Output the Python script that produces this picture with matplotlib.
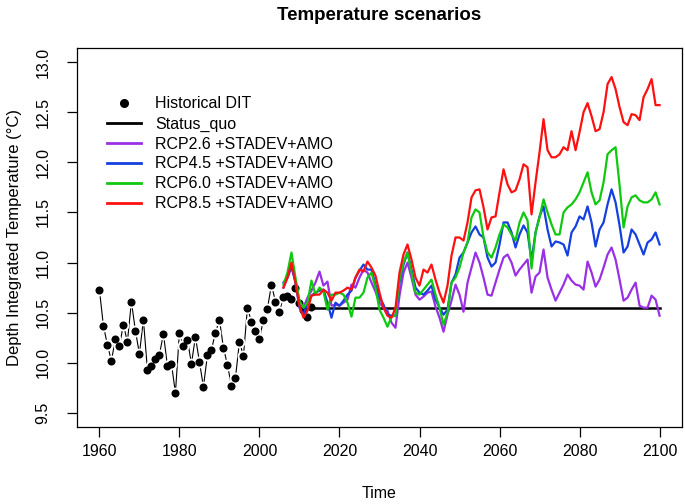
import numpy as np
import matplotlib
matplotlib.use("Agg")
import matplotlib.pyplot as plt
from matplotlib.lines import Line2D

plt.rcParams['font.family'] = ['Liberation Sans', 'DejaVu Sans']

# historical depth integrated temperature (points)
hist_years = list(range(1960, 2014))
hist_dit = [10.73, 10.37, 10.18, 10.02, 10.24, 10.17, 10.38, 10.21, 10.61, 10.32,
            10.09, 10.43, 9.93, 9.97, 10.04, 10.08, 10.29, 9.97, 9.99, 9.70,
            10.30, 10.17, 10.23, 9.99, 10.26, 10.01, 9.76, 10.08, 10.13, 10.30,
            10.43, 10.15, 9.98, 9.77, 9.85, 10.21, 10.07, 10.55, 10.41, 10.32,
            10.24, 10.43, 10.54, 10.78, 10.61, 10.51, 10.66, 10.67, 10.64, 10.75,
            10.60, 10.53, 10.46, 10.56]

# status quo
sq_years = [2013, 2100]
sq_value = [10.55, 10.55]

# scenarios, yearly 2006-2100
scen_years = list(range(2006, 2101))
rcp26 = [10.75, 10.85, 10.95, 10.82, 10.60, 10.55, 10.65, 10.72, 10.80, 10.91,
         10.77, 10.81, 10.57, 10.58, 10.57, 10.60, 10.63, 10.78, 10.75, 10.85,
         10.93, 10.90, 10.80, 10.71, 10.60, 10.55, 10.52, 10.40, 10.35, 10.67,
         10.90, 11.00, 10.85, 10.68, 10.63, 10.66, 10.70, 10.71, 10.56, 10.45,
         10.31, 10.48, 10.62, 10.78, 10.68, 10.51, 10.80, 10.95, 11.10, 11.00,
         10.85, 10.68, 10.67, 10.80, 10.93, 11.05, 11.08, 11.00, 10.87, 10.93,
         10.98, 11.03, 10.70, 10.86, 10.90, 11.13, 10.85, 10.73, 10.62, 10.70,
         10.78, 10.88, 10.82, 10.78, 10.77, 10.73, 11.01, 10.90, 10.76, 10.83,
         10.95, 11.08, 11.15, 11.03, 10.83, 10.62, 10.65, 10.73, 10.80, 10.57,
         10.55, 10.55, 10.67, 10.63, 10.47]
rcp45 = [10.80, 10.85, 10.97, 10.80, 10.55, 10.48, 10.60, 10.67, 10.70, 10.72,
         10.73, 10.60, 10.45, 10.60, 10.57, 10.62, 10.68, 10.72, 10.85, 10.92,
         10.98, 10.93, 10.93, 10.78, 10.65, 10.58, 10.48, 10.47, 10.47, 10.80,
         10.98, 11.10, 10.93, 10.75, 10.70, 10.68, 10.72, 10.77, 10.63, 10.55,
         10.48, 10.53, 10.80, 10.88, 11.05, 11.10, 11.20, 11.30, 11.36, 11.28,
         11.25, 11.05, 10.96, 11.00, 11.18, 11.40, 11.40, 11.30, 11.15, 11.28,
         11.37, 11.30, 11.02, 11.30, 11.46, 11.56, 11.33, 11.16, 11.21, 11.20,
         11.18, 11.07, 11.30, 11.36, 11.46, 11.43, 11.56, 11.40, 11.16, 11.33,
         11.40, 11.58, 11.73, 11.60, 11.37, 11.10, 11.16, 11.33, 11.28, 11.18,
         11.08, 11.20, 11.23, 11.30, 11.18]
rcp60 = [10.78, 10.90, 11.10, 10.85, 10.62, 10.55, 10.60, 10.82, 10.68, 10.75,
         10.71, 10.53, 10.68, 10.68, 10.70, 10.68, 10.60, 10.46, 10.65, 10.65,
         10.70, 10.85, 10.90, 10.75, 10.53, 10.45, 10.36, 10.46, 10.47, 10.83,
         11.00, 11.10, 10.90, 10.70, 10.68, 10.73, 10.78, 10.83, 10.68, 10.55,
         10.38, 10.50, 10.80, 10.85, 10.95, 11.10, 11.20, 11.45, 11.53, 11.50,
         11.25, 11.10, 11.05, 11.15, 11.28, 11.38, 11.35, 11.28, 11.22, 11.40,
         11.50, 11.42, 10.94, 11.30, 11.45, 11.63, 11.50, 11.38, 11.28, 11.28,
         11.50, 11.55, 11.58, 11.63, 11.70, 11.80, 11.90, 11.70, 11.58, 11.62,
         11.80, 12.08, 12.12, 12.15, 11.77, 11.35, 11.56, 11.65, 11.67, 11.62,
         11.60, 11.60, 11.63, 11.70, 11.58]
rcp85 = [10.75, 10.85, 11.00, 10.80, 10.57, 10.45, 10.52, 10.67, 10.68, 10.68,
         10.73, 10.70, 10.62, 10.70, 10.70, 10.72, 10.75, 10.73, 10.85, 10.93,
         10.91, 11.01, 10.95, 10.87, 10.70, 10.55, 10.47, 10.45, 10.55, 10.90,
         11.08, 11.18, 11.03, 10.85, 10.77, 10.93, 10.90, 10.98, 10.83, 10.70,
         10.60, 10.77, 11.07, 11.25, 11.25, 11.22, 11.40, 11.65, 11.72, 11.73,
         11.55, 11.33, 11.45, 11.46, 11.70, 11.93, 11.78, 11.70, 11.72, 11.83,
         11.98, 11.95, 11.48, 11.80, 12.10, 12.43, 12.12, 12.05, 12.05, 12.08,
         12.15, 12.12, 12.31, 12.12, 12.30, 12.50, 12.59, 12.46, 12.31, 12.33,
         12.50, 12.78, 12.85, 12.73, 12.55, 12.40, 12.37, 12.48, 12.47, 12.42,
         12.65, 12.73, 12.83, 12.57, 12.57]

labels = ["Historical DIT", "Status_quo", "RCP2.6 +STADEV+AMO",
          "RCP4.5 +STADEV+AMO", "RCP6.0 +STADEV+AMO", "RCP8.5 +STADEV+AMO"]
colors = ["#9a30e6", "#1540e0", "#10c810", "#ff1010"]

fig = plt.figure(figsize=(6.85, 5.04), dpi=100)
ax = fig.add_axes([0.1124, 0.1528, 0.8832, 0.752])

# historical, R type="b" style (line with gaps round the points)
ax.plot(hist_years, hist_dit, color="black", lw=0.8, zorder=2)
ax.plot(hist_years, hist_dit, "o", color="white", ms=8.5, mec="none", zorder=3)
ax.plot(hist_years, hist_dit, "o", color="black", ms=5.8, mec="none", zorder=4)

ax.plot(sq_years, sq_value, color="black", lw=1.8, zorder=5)
for vals, c in zip([rcp26, rcp45, rcp60, rcp85], colors):
    ax.plot(scen_years, vals, color=c, lw=1.6, zorder=6)

ax.set_xlim(1960 - 5.6, 2100 + 5.6)
ax.set_ylim(9.5 - 0.14, 13.0 + 0.14)
ax.set_xticks(range(1960, 2101, 20))
ax.set_yticks(np.arange(9.5, 13.01, 0.5))
ax.set_yticklabels([f"{v:.1f}" for v in np.arange(9.5, 13.01, 0.5)],
                   rotation=90, va="center")
ax.tick_params(direction="out", length=7, width=0.9, labelsize=11.5)
ax.tick_params(axis="x", pad=5)
ax.tick_params(axis="y", pad=12)
for s in ax.spines.values():
    s.set_linewidth(0.9)

ax.set_xlabel("Time", fontsize=11.5, labelpad=20)
ax.set_ylabel("Depth Integrated Temperature (°C)", fontsize=12, labelpad=10)
ax.set_title("Temperature scenarios", fontsize=13.5, fontweight="bold", pad=20)

handles = [Line2D([], [], marker="o", ls="none", color="black", ms=5.5)]
handles.append(Line2D([], [], color="black", lw=2))
for c in colors:
    handles.append(Line2D([], [], color=c, lw=2))
ax.legend(handles, labels, loc="upper left", bbox_to_anchor=(0.05, 0.872),
          frameon=False, fontsize=11.5, handlelength=2.1, handletextpad=0.9,
          labelspacing=0.31, borderpad=0, borderaxespad=0)

fig.savefig("out.png", dpi=100)
